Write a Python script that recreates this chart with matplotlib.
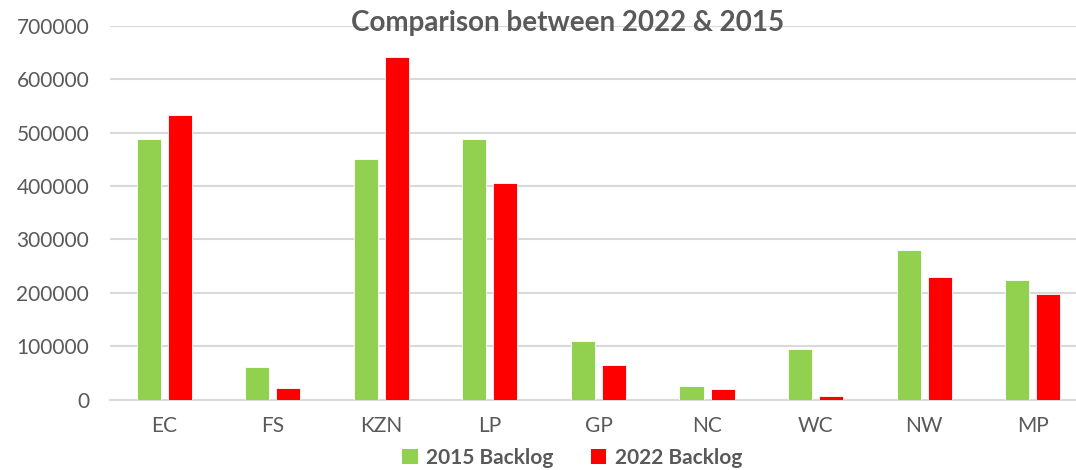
import numpy as np
import matplotlib
matplotlib.use('Agg')
from matplotlib import pyplot as plt
from matplotlib.patches import Patch

# Backlog per province
provinces = ['EC', 'FS', 'KZN', 'LP', 'GP', 'NC', 'WC', 'NW', 'MP']
backlog_2015 = [488000, 61000, 451000, 488000, 109000, 25000, 94000, 280000, 223500]
backlog_2022 = [533000, 21000, 641000, 405000, 65500, 19500, 6300, 230000, 198000]
yticks = [0, 100000, 200000, 300000, 400000, 500000, 600000, 700000]

green = '#92D050'
red = '#FF0000'
grey_text = '#595959'
grid_col = '#D9D9D9'

plt.rcParams['font.family'] = ['Lato', 'DejaVu Sans']

fig = plt.figure(figsize=(10.76, 4.70), dpi=100)
ax = fig.add_axes([0.1022, 0.1496, 0.908, 0.7957])

x = np.arange(len(provinces))
w = 0.222
off = 0.143
ax.bar(x - off, backlog_2015, width=w, color=green, edgecolor='white', linewidth=0.6, zorder=3)
ax.bar(x + off, backlog_2022, width=w, color=red, edgecolor='white', linewidth=0.6, zorder=3)

ax.set_xlim(-0.5, len(provinces) - 0.5)
ax.set_ylim(0, 700000)
ax.set_yticks(yticks)
ax.set_yticklabels([str(v) for v in yticks])
ax.set_xticks(x)
ax.set_xticklabels(provinces)

ax.yaxis.grid(True, color=grid_col, linewidth=1.5, zorder=0)
ax.set_axisbelow(True)
for side in ['top', 'right', 'left']:
    ax.spines[side].set_visible(False)
ax.spines['bottom'].set_color(grid_col)
ax.spines['bottom'].set_linewidth(1.5)
ax.tick_params(axis='both', length=0, labelsize=15, colors=grey_text)
ax.tick_params(axis='y', pad=15)
ax.tick_params(axis='x', pad=12)

fig.text(568 / 1076, 1 - 23 / 470, 'Comparison between 2022 & 2015',
         ha='center', va='center', fontsize=20, fontweight='bold', color=grey_text, zorder=5)

handles = [Patch(facecolor=green, label='2015 Backlog'),
           Patch(facecolor=red, label='2022 Backlog')]
leg = fig.legend(handles=handles, loc='center', bbox_to_anchor=(572 / 1076, 1 - 458 / 470),
                 ncol=2, frameon=False, handlelength=0.75, handleheight=0.75,
                 handletextpad=0.4, columnspacing=1.8,
                 prop={'weight': 'bold', 'size': 15})
for t in leg.get_texts():
    t.set_color(grey_text)

fig.savefig('out.png', dpi=100)
